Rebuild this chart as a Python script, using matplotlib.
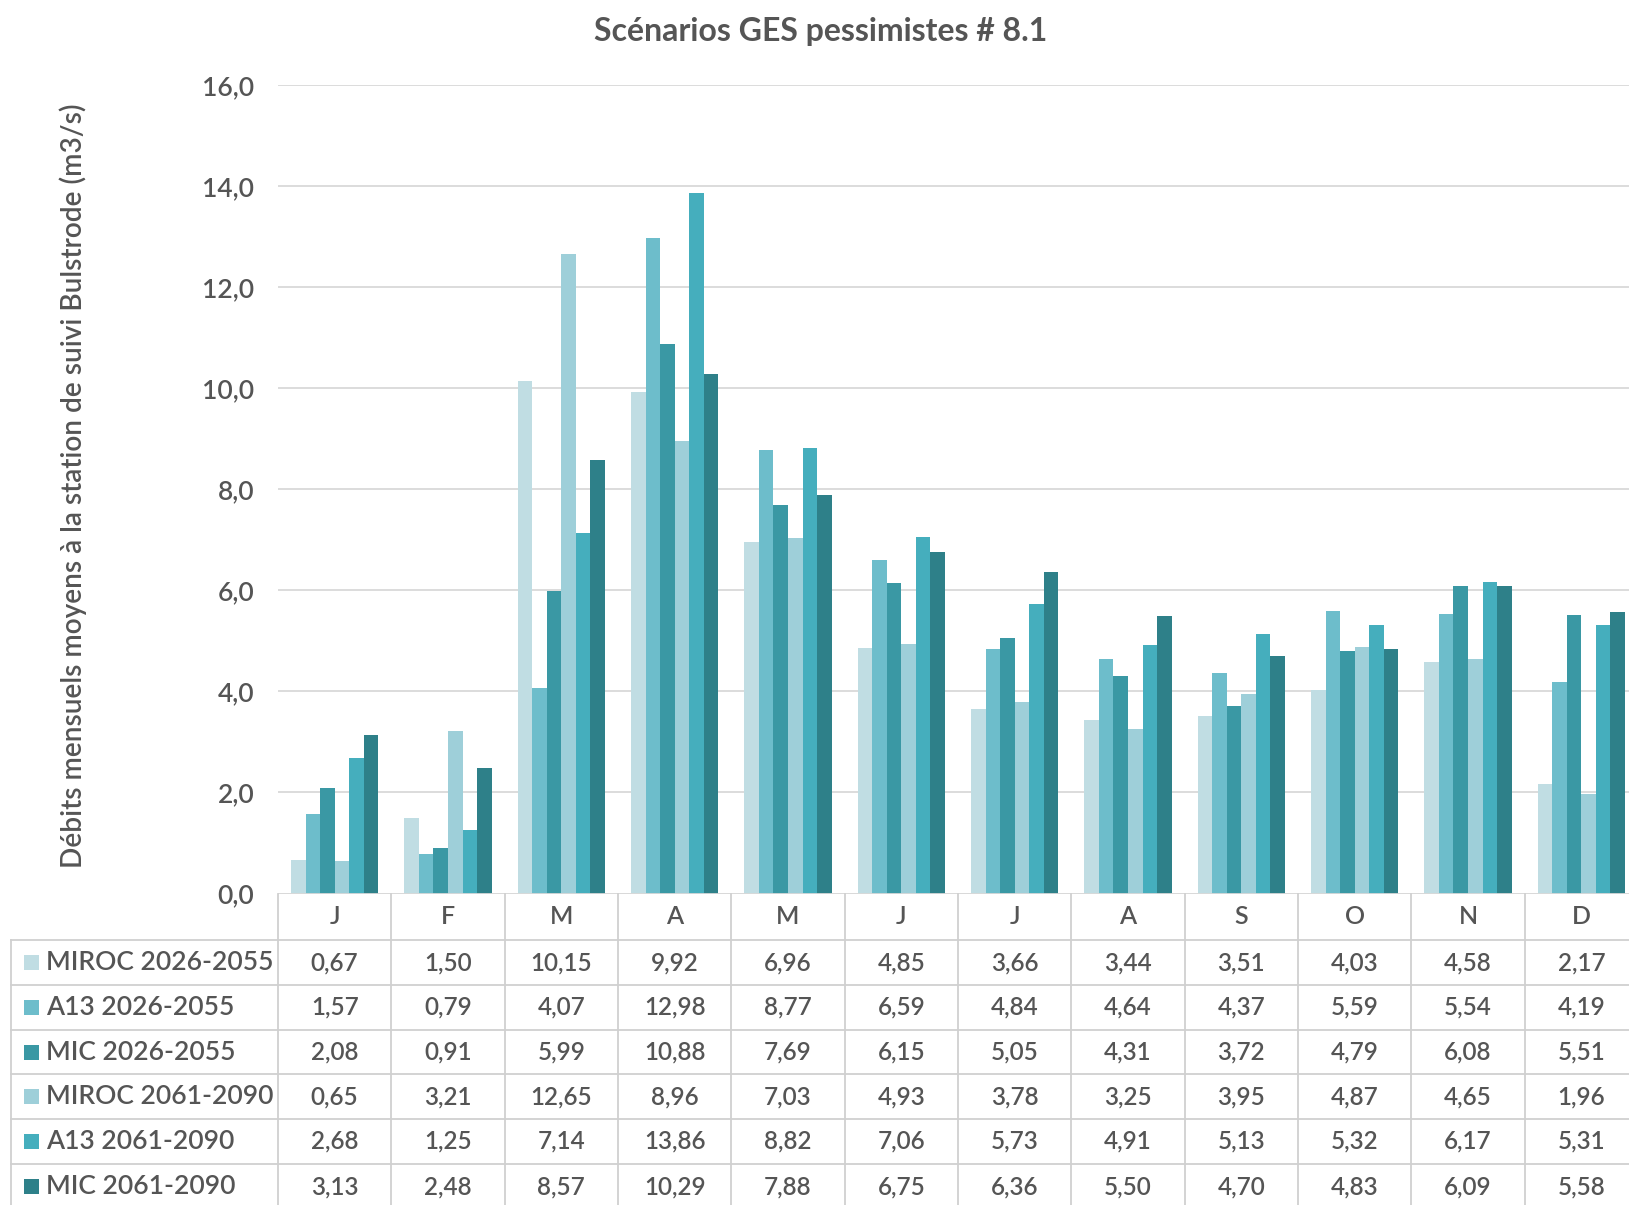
import matplotlib
matplotlib.use("Agg")
import matplotlib.pyplot as plt
from matplotlib.lines import Line2D
from matplotlib.patches import Rectangle

months = ["J", "F", "M", "A", "M", "J", "J", "A", "S", "O", "N", "D"]
series_names = ["MIROC 2026-2055", "A13 2026-2055", "MIC 2026-2055",
                "MIROC 2061-2090", "A13 2061-2090", "MIC 2061-2090"]
miroc_2026 = [0.67, 1.50, 10.15, 9.92, 6.96, 4.85, 3.66, 3.44, 3.51, 4.03, 4.58, 2.17]
a13_2026 = [1.57, 0.79, 4.07, 12.98, 8.77, 6.59, 4.84, 4.64, 4.37, 5.59, 5.54, 4.19]
mic_2026 = [2.08, 0.91, 5.99, 10.88, 7.69, 6.15, 5.05, 4.31, 3.72, 4.79, 6.08, 5.51]
miroc_2061 = [0.65, 3.21, 12.65, 8.96, 7.03, 4.93, 3.78, 3.25, 3.95, 4.87, 4.65, 1.96]
a13_2061 = [2.68, 1.25, 7.14, 13.86, 8.82, 7.06, 5.73, 4.91, 5.13, 5.32, 6.17, 5.31]
mic_2061 = [3.13, 2.48, 8.57, 10.29, 7.88, 6.75, 6.36, 5.50, 4.70, 4.83, 6.09, 5.58]
series = [miroc_2026, a13_2026, mic_2026, miroc_2061, a13_2061, mic_2061]
colors = ["#C0DDE3", "#6DBDCB", "#3A98A4", "#9ECFD9", "#45AEBD", "#2E8089"]
yticks = [0, 2, 4, 6, 8, 10, 12, 14, 16]

FONT = "Lato"
WT = "semibold"
TXT = "#555555"
GRID = "#D9D9D9"

W, H = 1629, 1205
fig = plt.figure(figsize=(W / 100, H / 100), dpi=100)

def fx(px):
    return px / W

def fy(py):
    return 1 - py / H

ax_left, ax_right = 278, 1638
y0_px, y16_px = 893.5, 85
ax = fig.add_axes([fx(ax_left), fy(y0_px), fx(ax_right - ax_left), (y0_px - y16_px) / H])
ax.set_xlim(-0.5, len(months) - 0.5)
ax.set_ylim(0, 16)

n = len(series)
bw = 0.128
for i, (vals, col) in enumerate(zip(series, colors)):
    xs = [m + (i - (n - 1) / 2) * bw for m in range(len(months))]
    ax.bar(xs, vals, width=bw, color=col, zorder=3, linewidth=0)

ax.set_yticks(yticks)
ax.set_yticklabels([f"{t:.1f}".replace(".", ",") for t in yticks],
                   fontfamily=FONT, fontweight=WT, fontsize=19, color=TXT)
ax.tick_params(axis="y", length=0, pad=17)
ax.set_xticks([])
ax.grid(axis="y", color=GRID, linewidth=1.3, zorder=0)
for s in ax.spines.values():
    s.set_visible(False)
ax.axhline(0, color=GRID, linewidth=1.3, zorder=4)

# Title and y label
fig.text(fx(821), fy(31), "Scénarios GES pessimistes # 8.1", ha="center", va="center",
         fontfamily=FONT, fontweight="bold", fontsize=23, color=TXT)
fig.text(fx(73), fy(486), "Débits mensuels moyens à la station de suivi Bulstrode (m3/s)",
         rotation=90, ha="center", va="center", fontfamily=FONT, fontweight=WT,
         fontsize=20.2, color=TXT)

# Data table below axis
row_lines = [940, 985, 1030, 1074, 1119, 1164, 1209]
header_top = y0_px
table_left = 11
trans = ax.get_xaxis_transform()  # x data, y axes fraction

def axfrac(py):
    return (fy(py) - fy(y0_px)) / ((y0_px - y16_px) / H)

BORDER = "#D0D0D0"
for k in range(len(months) + 1):
    xb = k - 0.5
    ax.add_line(Line2D([xb, xb], [axfrac(header_top), axfrac(row_lines[-1])], transform=trans,
                       color=BORDER, linewidth=1.3, clip_on=False, zorder=5))
for py in row_lines:
    fig.add_artist(Line2D([fx(table_left), fx(ax_right)], [fy(py), fy(py)],
                          color=BORDER, linewidth=1.3))
fig.add_artist(Line2D([fx(table_left), fx(table_left)], [fy(row_lines[0]), fy(row_lines[-1])],
                      color=BORDER, linewidth=1.3))

for m, lab in enumerate(months):
    ax.text(m, axfrac((header_top + row_lines[0]) / 2), lab, transform=trans, ha="center",
            va="center", fontfamily=FONT, fontweight=WT, fontsize=18, color=TXT, clip_on=False)

for r, (name, vals, col) in enumerate(zip(series_names, series, colors)):
    cy = (row_lines[r] + row_lines[r + 1]) / 2
    fig.add_artist(Rectangle((fx(24), fy(cy + 7.5)), fx(15), 15 / H, color=col, linewidth=0))
    fig.text(fx(46), fy(cy), name, ha="left", va="center", fontfamily=FONT, fontweight=WT,
             fontsize=19, color=TXT)
    for m, v in enumerate(vals):
        ax.text(m, axfrac(cy), f"{v:.2f}".replace(".", ","), transform=trans, ha="center",
                va="center", fontfamily=FONT, fontweight=WT, fontsize=17.5, color=TXT,
                clip_on=False)

fig.savefig("out.png", dpi=100, facecolor="white")
